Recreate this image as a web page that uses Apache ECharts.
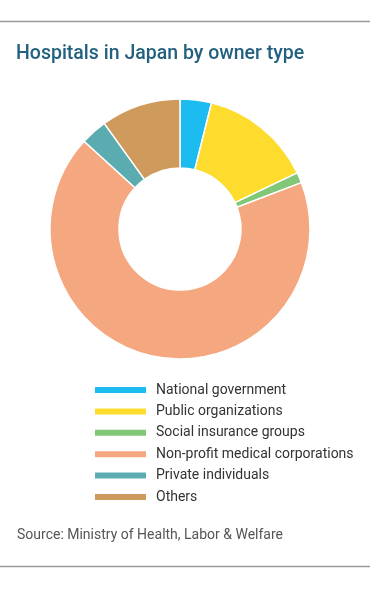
<!DOCTYPE html>
<html>
<head>
<meta charset="utf-8">
<script src="https://cdn.jsdelivr.net/npm/echarts@6/dist/echarts.min.js"></script>
<style>
html,body{margin:0;padding:0;background:#fff;}
#c{width:370px;height:599px;}
</style>
</head>
<body>
<div id="c"></div>
<script>
const categories = ["National government","Public organizations","Social insurance groups","Non-profit medical corporations","Private individuals","Others"];
const shares = [3.9, 14.0, 1.3, 67.6, 3.3, 9.9];
const colors = ["#1cbcf0","#fddc2d","#80c878","#f5a780","#5aacb0","#cf9b5c"];

const chart = echarts.init(document.getElementById('c'), null, {renderer:'canvas'});
chart.setOption({
  animation:false,
  backgroundColor:'#fff',
  title:{
    text:'Hospitals in Japan by owner type',
    left:16, top:44, padding:0,
    textStyle:{fontFamily:'Roboto', fontSize:19.5, fontWeight:500, color:'#23607f'}
  },
  legend:{
    orient:'vertical',
    left:93, top:383, padding:0,
    itemWidth:53, itemHeight:8,
    itemGap:7.4,
    icon:'rect',
    data:categories,
    textStyle:{fontFamily:'Roboto', fontSize:14, color:'#333', lineHeight:14, padding:[0,0,0,4]}
  },
  graphic:[
    {type:'line', shape:{x1:0,y1:21.5,x2:370,y2:21.5}, style:{stroke:'#9a9a9a', lineWidth:1.5}},
    {type:'line', shape:{x1:0,y1:566.5,x2:370,y2:566.5}, style:{stroke:'#9a9a9a', lineWidth:1.5}},
    {type:'text', left:17, top:528, style:{text:'Source: Ministry of Health, Labor & Welfare', font:'14px Roboto', fill:'#555'}}
  ],
  series:[{
    type:'pie',
    center:[180,229],
    radius:[61,130],
    startAngle:90,
    clockwise:true,
    label:{show:false},
    labelLine:{show:false},
    itemStyle:{borderColor:'#fff', borderWidth:1.5},
    emphasis:{disabled:true},
    data:categories.map((n,i)=>({name:n, value:shares[i], itemStyle:{color:colors[i]}}))
  }]
});
</script>
</body>
</html>
